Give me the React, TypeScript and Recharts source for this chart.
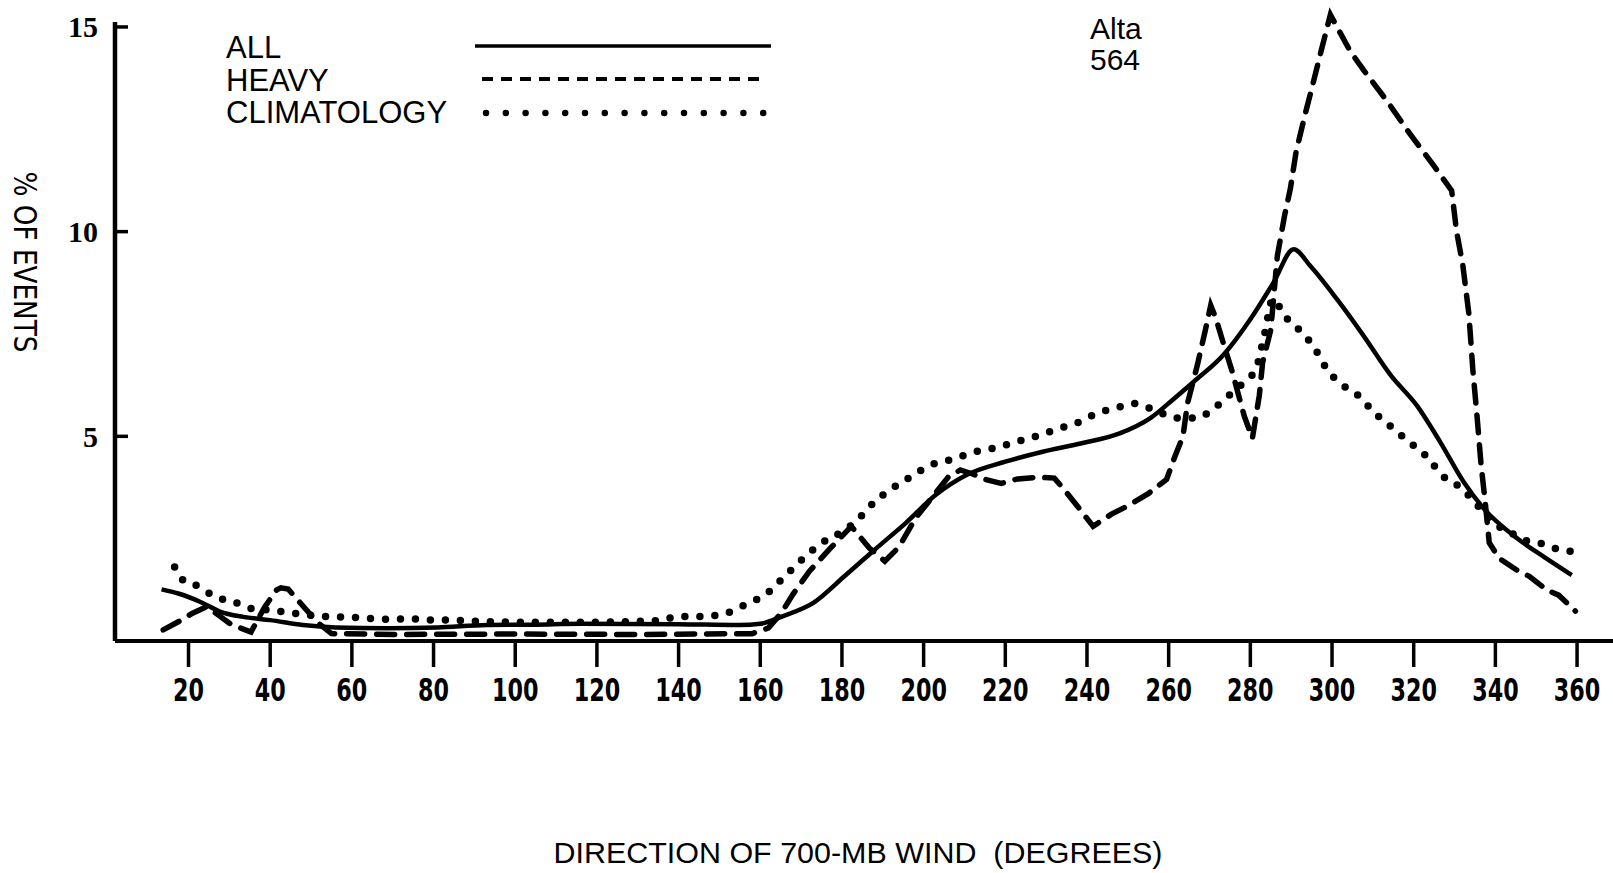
import { Label, Legend, Line, LineChart, ReferenceLine, XAxis, YAxis } from "recharts";

// direction of 700-mb wind (deg) -> % of events
const xTicks = [20, 40, 60, 80, 100, 120, 140, 160, 180, 200, 220, 240, 260, 280, 300, 320, 340, 360];
const yTicks = [5, 10, 15];

const allEvents: [number, number][] = [
  [13.4, 1.26], [17.5, 1.16], [22.8, 0.96], [27.7, 0.72], [33.4, 0.59], [40, 0.51],
  [48, 0.39], [56, 0.33], [68.5, 0.31], [81, 0.33], [93, 0.39], [105, 0.4],
  [116, 0.42], [140, 0.41], [155, 0.39], [160, 0.42], [165.6, 0.61], [173, 0.93],
  [180.6, 1.58], [188, 2.23], [195.6, 2.88], [203, 3.57], [210.6, 4.06], [220, 4.38],
  [229.4, 4.63], [238.7, 4.83], [248, 5.07], [255.6, 5.45], [261.3, 5.92], [266.2, 6.34],
  [273.5, 7.0], [280, 7.86], [285.7, 8.76], [290.6, 9.57], [294.7, 9.16], [301.2, 8.35],
  [307.7, 7.46], [314.3, 6.5], [320.8, 5.75], [326.5, 4.86], [332.2, 3.89], [337.1, 3.24],
  [345.3, 2.51], [351.8, 2.06], [358.7, 1.61],
];

const heavyEvents: [number, number][] = [
  [13.8, 0.27], [17.5, 0.47], [21, 0.68], [24.5, 0.84], [27.5, 0.62], [30.5, 0.4],
  [35.3, 0.22], [38.7, 0.84], [41.6, 1.25], [42.6, 1.3], [44.4, 1.27], [51.4, 0.47],
  [55, 0.18], [70, 0.16], [100, 0.17], [130, 0.16], [158, 0.18], [162, 0.32],
  [165.2, 0.69], [168, 1.14], [172, 1.7], [177, 2.25], [182.3, 2.8], [186.7, 2.27],
  [190.5, 1.95], [194, 2.3], [198, 3.0], [202, 3.5], [206, 4.0], [209, 4.18],
  [212, 4.08], [215, 3.95], [219, 3.85], [223, 3.96], [228, 4.0], [232, 3.98],
  [234, 3.75], [238, 3.25], [241.5, 2.8], [246, 3.1], [250, 3.3], [255, 3.6],
  [259.5, 3.95], [261.5, 4.5], [263.5, 5.0], [264.6, 5.8], [267, 6.73], [269, 7.6],
  [270.3, 8.2], [271.5, 7.9], [273, 7.4], [275.5, 6.6], [278.5, 5.5], [280.5, 4.95],
  [282.2, 6.0], [283, 6.8], [285, 7.6], [286.6, 9.4], [288.4, 10.4], [289.8, 11.05],
  [291.2, 11.95], [293.5, 12.9], [295.3, 13.6], [297.3, 14.4], [299.6, 15.3], [301.6, 14.93],
  [304.5, 14.4], [307.7, 13.95], [313.4, 13.2], [319, 12.4], [325, 11.6], [329.3, 11.0],
  [330.5, 10.0], [332, 9.2], [333.5, 8.0], [334.5, 6.6], [335.5, 5.5], [336.5, 4.3],
  [337.5, 3.4], [338.5, 2.4], [340.9, 2.02], [345.3, 1.73], [348.3, 1.58], [352.7, 1.24],
  [355.5, 1.12], [359.6, 0.73],
];

const climatology: [number, number][] = [
  [16.6, 1.81], [19.1, 1.45], [22.4, 1.34], [26.5, 1.08], [31, 0.96], [35.1, 0.8],
  [39.1, 0.76], [44.9, 0.69], [54.6, 0.59], [59.5, 0.58], [65, 0.55], [69.8, 0.53],
  [74.1, 0.55], [78.3, 0.51], [83.6, 0.51], [88.5, 0.49], [100, 0.46], [120, 0.46],
  [135, 0.5], [140, 0.6], [146, 0.6], [152, 0.69], [157.2, 0.93], [161, 1.11],
  [165.6, 1.54], [169.8, 1.95], [175, 2.39], [180.2, 2.68], [183.4, 2.92], [188.1, 3.41],
  [192.3, 3.73], [197, 4.02], [201.7, 4.3], [206.4, 4.42], [213, 4.63], [217.2, 4.71],
  [222.8, 4.87], [228.4, 5.03], [233.1, 5.19], [238.3, 5.36], [241.5, 5.52], [248.1, 5.72],
  [251.4, 5.8], [258.4, 5.56], [262, 5.45], [267, 5.45], [270, 5.6], [274.3, 5.96],
  [278, 6.28], [281.4, 6.66], [283.5, 7.5], [285.5, 8.36], [287.5, 8.1], [289.2, 7.85],
  [292, 7.6], [295.9, 7.13], [298.4, 6.69], [300.8, 6.4], [303.3, 6.2], [307.3, 5.92],
  [309.8, 5.63], [312.4, 5.4], [315.5, 5.15], [318.4, 4.9], [321.2, 4.68], [323.9, 4.43],
  [326.8, 4.05], [329.2, 3.91], [332.6, 3.64], [335.9, 3.28], [340.4, 2.83], [344, 2.63],
  [346.9, 2.47], [351, 2.39], [354.7, 2.26], [359.2, 2.18],
];

const toPoints = (rows: [number, number][]) => rows.map(([deg, pct]) => ({ deg, pct }));

const INK = "#000";
const narrow = "'Liberation Sans Narrow', 'DejaVu Sans Condensed', 'Liberation Sans', sans-serif";
const sans = "'Liberation Sans', Arial, sans-serif";

function XTick({ x, y, payload }: any) {
  const label = String(payload.value);
  return (
    <text
      x={x}
      y={y}
      dy="0.71em"
      textAnchor="middle"
      textLength={label.length * 15.5}
      lengthAdjust="spacingAndGlyphs"
      fontFamily={narrow}
      fontWeight="bold"
      fontSize={32}
      fill={INK}
    >
      {label}
    </text>
  );
}

function YTick({ x, y, payload }: any) {
  return (
    <g>
      <line x1={x} y1={y} x2={x + 13} y2={y} stroke={INK} strokeWidth={3.5} />
      <text
        x={x - 17}
        y={y}
        textAnchor="end"
        dominantBaseline="central"
        fontFamily="'Liberation Serif', 'DejaVu Serif', serif"
        fontWeight="bold"
        fontSize={30}
        fill={INK}
      >
        {payload.value}
      </text>
    </g>
  );
}

function KeyBox() {
  const txt = { fontFamily: sans, fontSize: 31, fill: INK };
  return (
    <svg width={1200} height={140} style={{ display: "block" }}>
      <text x={226} y={57.5} {...txt}>ALL</text>
      <line x1={475} y1={46} x2={771} y2={46} stroke={INK} strokeWidth={3.5} />
      <text x={226} y={90.5} {...txt}>HEAVY</text>
      <line x1={482} y1={79} x2={766} y2={79} stroke={INK} strokeWidth={4} strokeDasharray="11 8" />
      <text x={226} y={122.5} {...txt}>CLIMATOLOGY</text>
      <line
        x1={486}
        y1={113}
        x2={766}
        y2={113}
        stroke={INK}
        strokeWidth={6.5}
        strokeDasharray="0 19.8"
        strokeLinecap="round"
      />
      <text x={1090} y={39} {...txt} fontSize={30}>Alta</text>
      <text x={1090} y={70} {...txt} fontSize={30}>564</text>
    </svg>
  );
}

export default function App() {
  return (
    <div style={{ width: 1613, height: 873, background: "#fff" }}>
      <style>{"body{margin:0}"}</style>
      <LineChart width={1613} height={873} margin={{ top: 2.4, right: 0, left: 0, bottom: 0 }}>
        <XAxis
          dataKey="deg"
          type="number"
          domain={[2, 368.8]}
          ticks={xTicks}
          allowDataOverflow
          height={232}
          axisLine={{ stroke: INK, strokeWidth: 4 }}
          tickLine={{ stroke: INK, strokeWidth: 3.5 }}
          tickSize={26}
          tickMargin={11}
          tick={<XTick />}
        >
          <Label
            content={() => (
              <text
                x={858}
                y={863}
                textAnchor="middle"
                textLength={609}
                lengthAdjust="spacingAndGlyphs"
                fontFamily={sans}
                fontSize={30}
                fill={INK}
                style={{ whiteSpace: "pre" }}
              >
                {"DIRECTION OF 700-MB WIND  (DEGREES)"}
              </text>
            )}
          />
        </XAxis>
        <YAxis
          type="number"
          domain={[0, 15.6]}
          ticks={yTicks}
          allowDataOverflow
          width={115}
          axisLine={false}
          tickLine={false}
          tickSize={0}
          tickMargin={0}
          tick={<YTick />}
        >
          <Label
            content={() => (
              <text
                transform="translate(25,262) rotate(90)"
                textAnchor="middle"
                dominantBaseline="central"
                textLength={181}
                lengthAdjust="spacingAndGlyphs"
                fontFamily={narrow}
                fontSize={32}
                fill={INK}
              >
                % OF EVENTS
              </text>
            )}
          />
        </YAxis>
        <ReferenceLine
          segment={[
            { x: 2, y: 0 },
            { x: 2, y: 15.12 },
          ]}
          stroke={INK}
          strokeWidth={4.5}
        />
        <Legend
          layout="vertical"
          align="center"
          verticalAlign="middle"
          wrapperStyle={{ left: 0, top: 0, width: 1200, height: 140 }}
          content={() => <KeyBox />}
        />
        <Line
          data={toPoints(climatology)}
          dataKey="pct"
          name="CLIMATOLOGY"
          type="monotone"
          stroke={INK}
          strokeWidth={7.5}
          strokeDasharray="0 15"
          strokeLinecap="round"
          dot={false}
          activeDot={false}
          isAnimationActive={false}
        />
        <Line
          data={toPoints(heavyEvents)}
          dataKey="pct"
          name="HEAVY"
          type="linear"
          stroke={INK}
          strokeWidth={5.5}
          strokeDasharray="18 12"
          strokeLinecap="round"
          dot={false}
          activeDot={false}
          isAnimationActive={false}
        />
        <Line
          data={toPoints(allEvents)}
          dataKey="pct"
          name="ALL"
          type="monotone"
          stroke={INK}
          strokeWidth={4.5}
          dot={false}
          activeDot={false}
          isAnimationActive={false}
        />
      </LineChart>
    </div>
  );
}
